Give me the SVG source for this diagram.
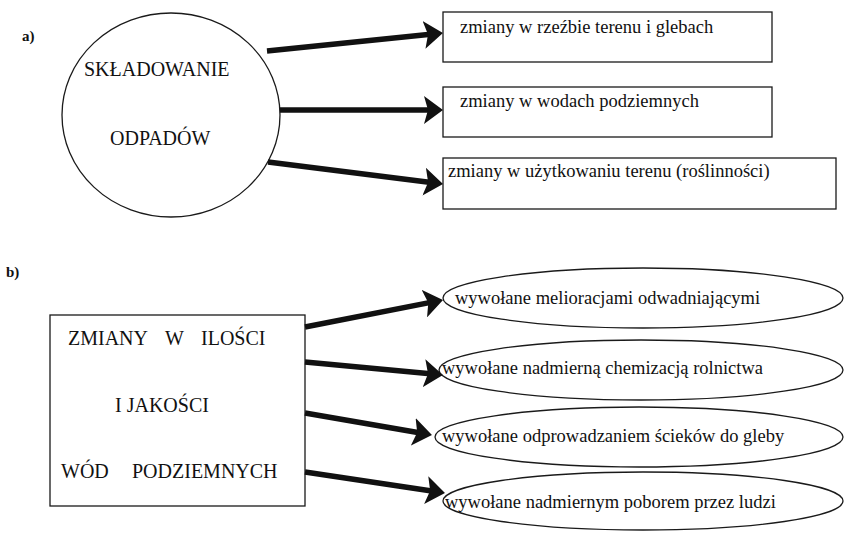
<svg xmlns="http://www.w3.org/2000/svg" width="845" height="533" viewBox="0 0 845 533">
<style>
.bg{fill:#fff}
.shape{fill:#fff;stroke:#1a1a1a;stroke-width:1.3}
.lbl{font-size:18.5px;fill:#111}
.cap{font-size:20px;fill:#111}
.tag{font-size:15px;font-weight:bold;fill:#111}
.arrow{fill:none;stroke:#111;stroke-width:5.5;stroke-linecap:butt}
</style>
<defs>
<marker id="head" markerUnits="userSpaceOnUse" viewBox="0 0 19 28" refX="9" refY="14" markerWidth="19" markerHeight="28" orient="auto">
<path d="M0,0 L19,14 L0,28 L4,14 Z" fill="#111"/>
</marker>
</defs>
<rect class="bg" x="0" y="0" width="845" height="533"/>

<text class="tag" x="22" y="41" font-family="Liberation Serif">a)</text>
<text class="tag" x="6" y="277" font-family="Liberation Serif">b)</text>

<g id="n-skladowanie">
<ellipse class="shape" cx="171" cy="115" rx="109" ry="102"/>
<text class="cap" x="84" y="76" font-family="Liberation Serif">SKŁADOWANIE</text>
<text class="cap" x="110" y="145" font-family="Liberation Serif">ODPADÓW</text>
</g>

<g id="n-rzezba">
<rect class="shape" x="443" y="12" width="329" height="50"/>
<text class="lbl" x="460" y="33" font-family="Liberation Serif">zmiany w rzeźbie terenu i glebach</text>
</g>
<g id="n-wody">
<rect class="shape" x="443" y="87" width="329" height="50"/>
<text class="lbl" x="460" y="107" font-family="Liberation Serif">zmiany w wodach podziemnych</text>
</g>
<g id="n-uzytkowanie">
<rect class="shape" x="443" y="158" width="393" height="51"/>
<text class="lbl" x="448" y="177" font-family="Liberation Serif">zmiany w użytkowaniu terenu (roślinności)</text>
</g>

<g id="n-zmiany">
<rect class="shape" x="50" y="315" width="255" height="191"/>
<text class="cap" x="68" y="345" font-family="Liberation Serif">ZMIANY</text>
<text class="cap" x="165" y="345" font-family="Liberation Serif">W</text>
<text class="cap" x="201" y="345" font-family="Liberation Serif">ILOŚCI</text>
<text class="cap" x="115" y="412" font-family="Liberation Serif">I JAKOŚCI</text>
<text class="cap" x="61" y="478" font-family="Liberation Serif">WÓD</text>
<text class="cap" x="132" y="478" font-family="Liberation Serif">PODZIEMNYCH</text>
</g>

<g id="n-melioracje">
<ellipse class="shape" cx="643" cy="298" rx="200" ry="30"/>
<text class="lbl" x="455" y="304" font-family="Liberation Serif">wywołane melioracjami odwadniającymi</text>
</g>
<g id="n-chemizacja">
<ellipse class="shape" cx="641" cy="370" rx="202" ry="30"/>
<text class="lbl" x="442" y="374" font-family="Liberation Serif">wywołane nadmierną chemizacją rolnictwa</text>
</g>
<g id="n-scieki">
<ellipse class="shape" cx="639" cy="437" rx="204" ry="30"/>
<text class="lbl" x="442" y="442" font-family="Liberation Serif">wywołane odprowadzaniem ścieków do gleby</text>
</g>
<g id="n-pobor">
<ellipse class="shape" cx="643" cy="501" rx="200" ry="29"/>
<text class="lbl" x="445" y="508" font-family="Liberation Serif">wywołane nadmiernym poborem przez ludzi</text>
</g>

<g id="connectors">
<line class="arrow" x1="267" y1="51" x2="433" y2="34" marker-end="url(#head)"/>
<line class="arrow" x1="280" y1="110" x2="433" y2="110" marker-end="url(#head)"/>
<line class="arrow" x1="268" y1="162" x2="433.1" y2="182.8" marker-end="url(#head)"/>
<line class="arrow" x1="305" y1="327" x2="433.2" y2="301.9" marker-end="url(#head)"/>
<line class="arrow" x1="305" y1="362" x2="433" y2="374.1" marker-end="url(#head)"/>
<line class="arrow" x1="305" y1="413" x2="422.1" y2="433.3" marker-end="url(#head)"/>
<line class="arrow" x1="305" y1="472" x2="435.1" y2="491.5" marker-end="url(#head)"/>
</g>
</svg>
